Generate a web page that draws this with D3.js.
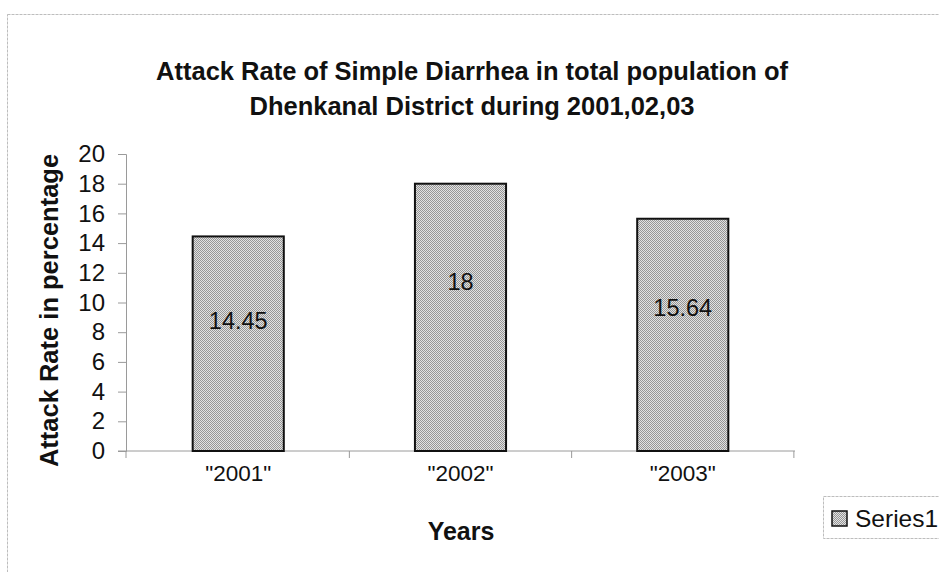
<!DOCTYPE html>
<html>
<head>
<meta charset="utf-8">
<script src="https://cdn.jsdelivr.net/npm/d3@7/dist/d3.min.js"></script>
<style>
  html, body { margin: 0; padding: 0; background: #fff; }
  svg { display: block; font-family: Arial, "Liberation Sans", sans-serif; }
</style>
</head>
<body>
<svg id="chart" width="939" height="572"></svg>
<script>
// Attack rate (%) of simple diarrhea per year
const years = ['"2001"', '"2002"', '"2003"'];
const attackRate = [14.45, 18, 15.64];
const yTicks = [0, 2, 4, 6, 8, 10, 12, 14, 16, 18, 20];
const seriesName = "Series1";
const titleLines = [
  "Attack Rate of Simple Diarrhea in total population of",
  "Dhenkanal District during 2001,02,03"
];

const svg = d3.select("#chart");
const W = 939, H = 572;
const plot = { left: 126, right: 795, top: 154, bottom: 451 };

// fine dithered grey fill for the bars
const defs = svg.append("defs");
const pat = defs.append("pattern")
  .attr("id", "dither").attr("width", 2).attr("height", 2)
  .attr("patternUnits", "userSpaceOnUse");
pat.append("rect").attr("width", 2).attr("height", 2).attr("fill", "#e2e2e2");
pat.append("rect").attr("width", 1).attr("height", 1).attr("fill", "#969696");
pat.append("rect").attr("x", 1).attr("y", 1).attr("width", 1).attr("height", 1).attr("fill", "#969696");

// chart frame (dotted light border)
svg.append("rect")
  .attr("x", 7.5).attr("y", 14.5).attr("width", W + 10).attr("height", H + 10)
  .attr("fill", "none").attr("stroke", "#bdbdbd").attr("stroke-width", 1)
  .attr("stroke-dasharray", "3,1");

// title
svg.append("text")
  .attr("text-anchor", "middle")
  .attr("font-size", 25.5).attr("font-weight", "bold").attr("fill", "#111")
  .selectAll("tspan").data(titleLines).join("tspan")
  .attr("x", 472).attr("y", (d, i) => 80 + i * 35)
  .text(d => d);

const x = d3.scaleBand().domain(years)
  .range([plot.left, plot.right]).paddingInner(0.59).paddingOuter(0.3);
const y = d3.scaleLinear().domain([0, 20]).range([plot.bottom, plot.top]);

// y axis
const yAxis = svg.append("g")
  .attr("transform", `translate(${plot.left},0)`)
  .call(d3.axisLeft(y).tickValues(yTicks).tickSize(8).tickPadding(13).tickFormat(d3.format("d")));
yAxis.select(".domain").attr("stroke", "#9a9a9a");
yAxis.selectAll(".tick line").attr("stroke", "#9a9a9a");
yAxis.selectAll(".tick text")
  .attr("font-size", 24).attr("fill", "#111").attr("font-family", "Arial, 'Liberation Sans', sans-serif");

// x axis with tick marks on band boundaries
const xAxisG = svg.append("g").attr("transform", `translate(0,${plot.bottom})`);
xAxisG.append("line")
  .attr("x1", plot.left - 8).attr("x2", plot.right)
  .attr("stroke", "#9a9a9a");
const bounds = [plot.left].concat(years.map(d => x(d) - x.step() * x.paddingInner() / 2 + x.step()));
xAxisG.selectAll("line.tk").data(bounds).join("line").attr("class", "tk")
  .attr("x1", d => d).attr("x2", d => d).attr("y1", 0).attr("y2", 7)
  .attr("stroke", "#9a9a9a");
xAxisG.selectAll("text").data(years).join("text")
  .attr("x", d => x(d) + x.bandwidth() / 2).attr("y", 30)
  .attr("text-anchor", "middle").attr("font-size", 22.5).attr("fill", "#111")
  .text(d => d);

// bars
svg.append("g").selectAll("rect").data(attackRate).join("rect")
  .attr("x", (d, i) => x(years[i]))
  .attr("y", d => y(d))
  .attr("width", x.bandwidth())
  .attr("height", d => y(0) - y(d))
  .attr("fill", "url(#dither)")
  .attr("stroke", "#111").attr("stroke-width", 2);

// value labels
svg.append("g").selectAll("text").data(attackRate).join("text")
  .attr("x", (d, i) => x(years[i]) + x.bandwidth() / 2)
  .attr("y", d => y(d * 0.75) + 39)
  .attr("text-anchor", "middle").attr("font-size", 23.5).attr("fill", "#111")
  .text(d => d);

// axis titles
svg.append("text")
  .attr("transform", `translate(58,${(plot.top + plot.bottom) / 2 + 8}) rotate(-90)`)
  .attr("text-anchor", "middle").attr("font-size", 25.5).attr("font-weight", "bold").attr("fill", "#111")
  .text("Attack Rate in percentage");
svg.append("text")
  .attr("x", 461).attr("y", 540)
  .attr("text-anchor", "middle").attr("font-size", 25).attr("font-weight", "bold").attr("fill", "#111")
  .text("Years");

// legend
const lg = svg.append("g").attr("transform", "translate(823,496)");
lg.append("rect").attr("x", 0.5).attr("y", 0.5).attr("width", 130).attr("height", 42)
  .attr("fill", "#fff").attr("stroke", "#bdbdbd").attr("stroke-dasharray", "3,1");
lg.append("rect").attr("x", 9).attr("y", 15).attr("width", 15).attr("height", 15)
  .attr("fill", "url(#dither)").attr("stroke", "#111").attr("stroke-width", 1.5);
lg.append("text").attr("x", 32).attr("y", 31)
  .attr("font-size", 24.5).attr("fill", "#111").text(seriesName);
</script>
</body>
</html>
